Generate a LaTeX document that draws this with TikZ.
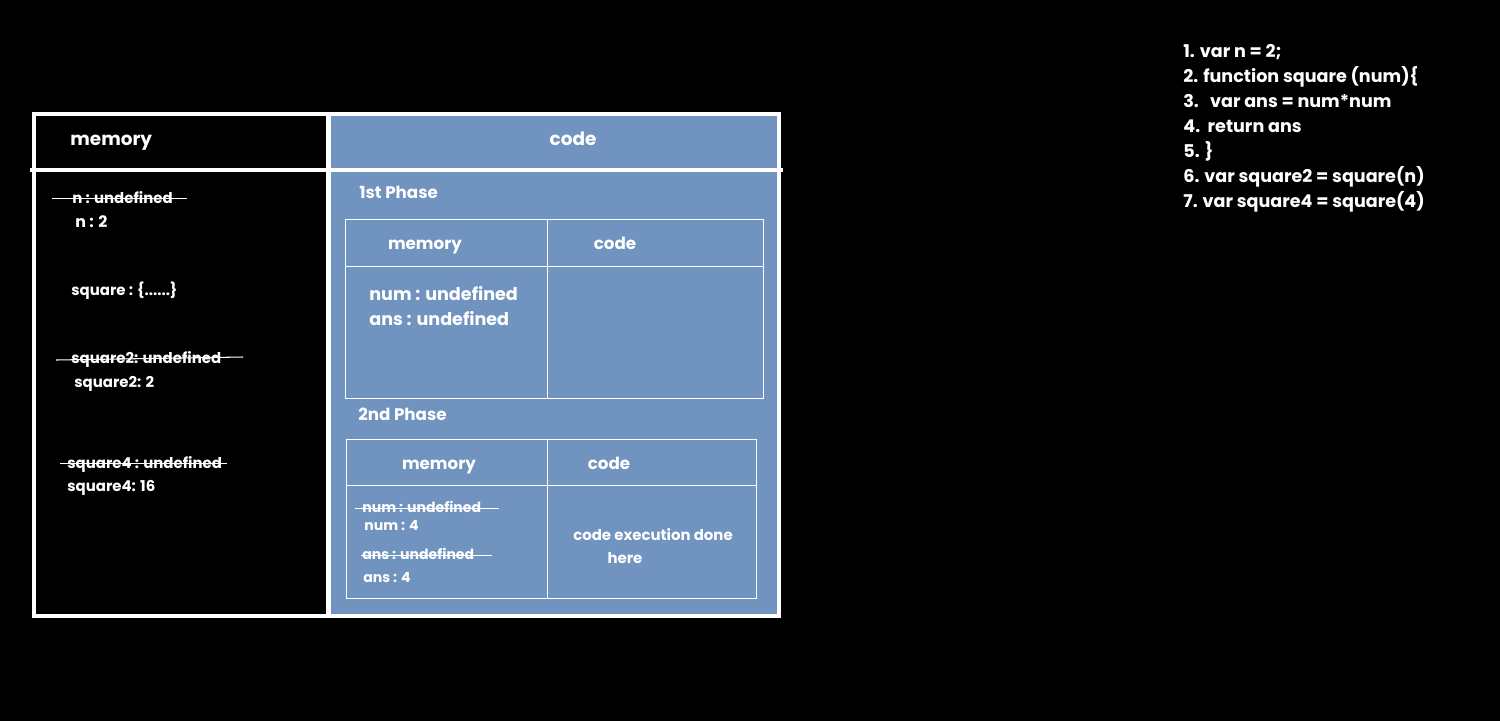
\documentclass[tikz,border=0pt]{standalone}
\usepackage{fontspec}
\setmainfont{Poppins}
\definecolor{panelblue}{RGB}{112,147,191}
\begin{document}
\begin{tikzpicture}[x=0.02cm,y=-0.02cm,
  txt/.style={text=white,font=\bfseries\fontsize{#1}{#1}\selectfont,inner sep=0pt,text height=0.9em,text depth=0.15em},
  txt/.default=8.5,
  strike/.style={white,line width=0.6pt},
  thin/.style={white,line width=0.5pt},
  frame/.style={white,line width=2.8pt}]
\fill[black] (0,0) rectangle (1500,721);
\useasboundingbox (0,0) rectangle (1500,721);
% panels
\fill[panelblue] (329,115) rectangle (778,615);
\draw[frame] (34,114) rectangle (779,616);
\draw[frame] (328.5,114) -- (328.5,616);
\draw[frame] (30,170) -- (783,170);
% headers
\node[txt=10.5,anchor=west] (hmem) at (70,139) {memory};
\node[txt=10.5] (hcode) at (573,139) {code};
% left memory entries
\node[txt,anchor=west] (n1) at (72,197) {n : undefined};
\draw[strike] (52,198.5) -- (187,198.5);
\node[txt=9,anchor=west] (n2) at (75,221) {n : 2};
\node[txt,anchor=west] (sq) at (71,289) {square : \{......\}};
\node[txt,anchor=west] (s21) at (71,357) {square2: undefined};
\draw[strike] (56,360) -- (243,357);
\node[txt,anchor=west] (s22) at (74,381) {square2: 2};
\node[txt,anchor=west] (s41) at (67,462) {square4 : undefined};
\draw[strike] (60,463.5) -- (227,463.5);
\node[txt,anchor=west] (s42) at (67,485) {square4: 16};
% phase 1
\node[txt=9.5,anchor=west] (p1) at (359,192) {1st Phase};
\draw[thin] (345,219) rectangle (763,398);
\draw[thin] (547,219) -- (547,398);
\draw[thin] (345,266) -- (763,266);
\node[txt=9.5] (t1m) at (425,243) {memory};
\node[txt=9.5] (t1c) at (615,243) {code};
\node[txt=10,anchor=west] (t1a) at (369,294) {num : undefined};
\node[txt=10,anchor=west] (t1b) at (369,319) {ans : undefined};
% phase 2
\node[txt=9.5,anchor=west] (p2) at (358,414) {2nd Phase};
\draw[thin] (346,439) rectangle (756,598);
\draw[thin] (547,439) -- (547,598);
\draw[thin] (346,485) -- (756,485);
\node[txt=9.5] (t2m) at (439,463) {memory};
\node[txt=9.5] (t2c) at (609,463) {code};
\node[txt=8,anchor=west] (u1) at (362,506) {num : undefined};
\draw[strike] (355,508.5) -- (499,508.5);
\node[txt=8,anchor=west] (u2) at (364,524) {num : 4};
\node[txt=8,anchor=west] (u3) at (362,553) {ans : undefined};
\draw[strike] (361,555.5) -- (492,555.5);
\node[txt=8,anchor=west] (u4) at (363,576) {ans : 4};
\node[txt=8.5] (ce1) at (653,534) {code execution done};
\node[txt=8.5] (ce2) at (625,557) {here};
% code listing
\node[txt=10,anchor=west] (c1) at (1183,51) {1. var n = 2;};
\node[txt=10,anchor=west] (c2) at (1183,76) {2. function square (num)\{};
\node[txt=10,anchor=west] (c3) at (1183,101) {3.\ \ \ var ans = num*num};
\node[txt=10,anchor=west] (c4) at (1183,126) {4.\ \ return ans};
\node[txt=10,anchor=west] (c5) at (1183,151) {5. \}};
\node[txt=10,anchor=west] (c6) at (1183,176) {6. var square2 = square(n)};
\node[txt=10,anchor=west] (c7) at (1183,201) {7. var square4 = square(4)};
\end{tikzpicture}
\end{document}
